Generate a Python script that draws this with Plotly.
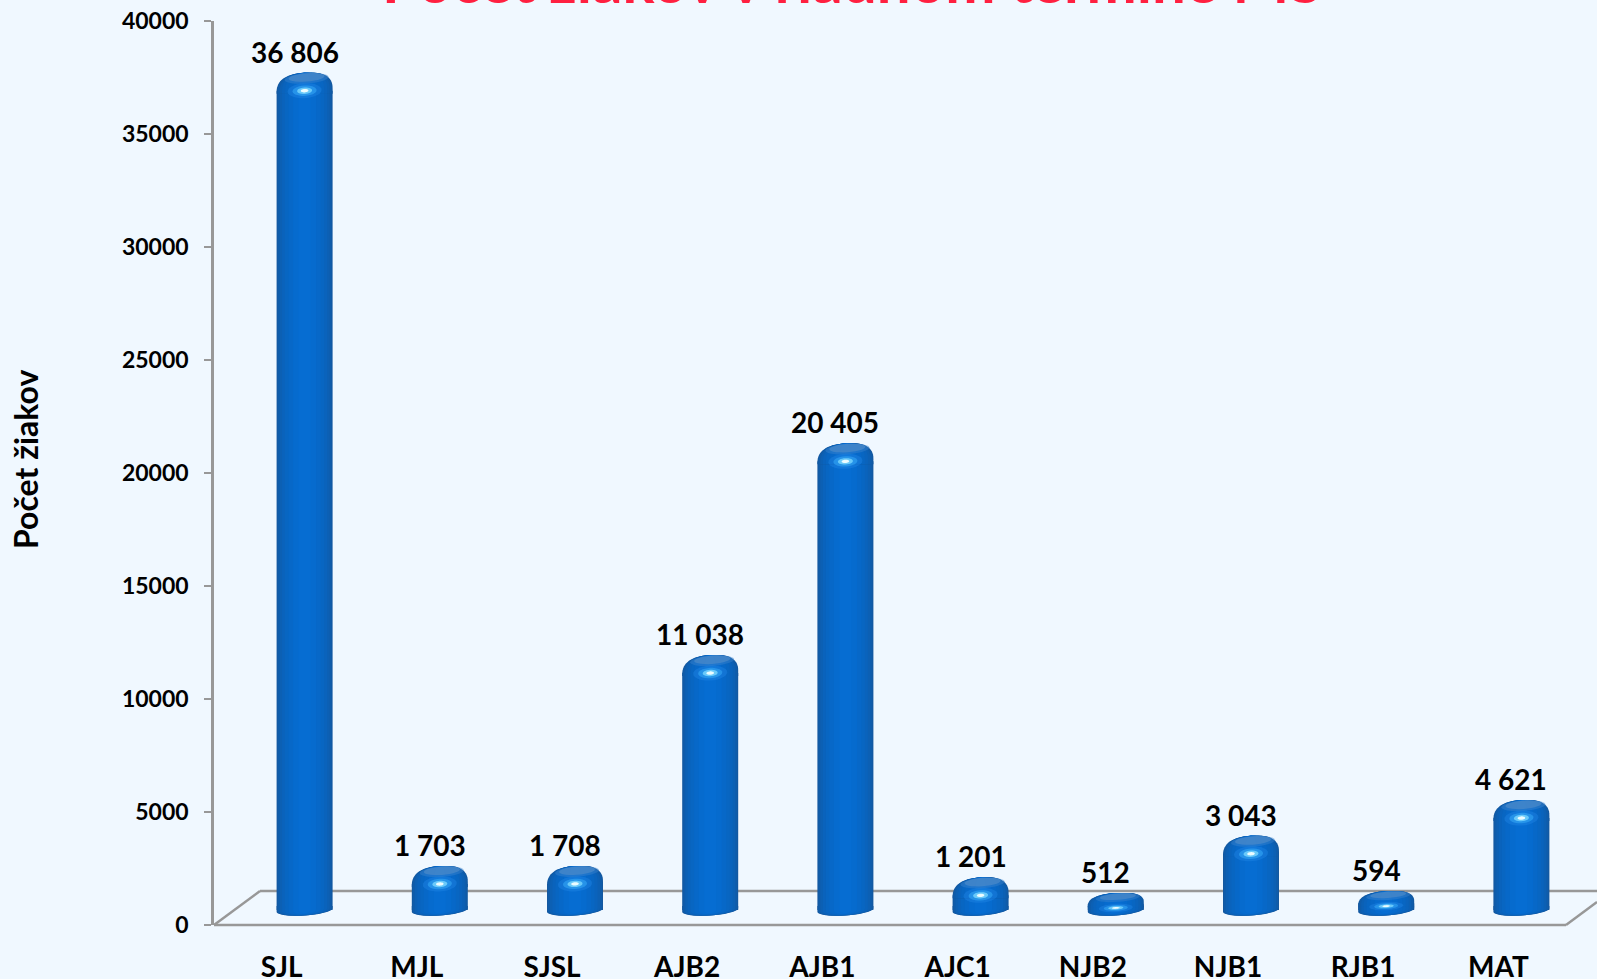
import math
import plotly.graph_objects as go

categories = ["SJL", "MJL", "SJSL", "AJB2", "AJB1", "AJC1", "NJB2", "NJB1", "RJB1", "MAT"]
values = [36806, 1703, 1708, 11038, 20405, 1201, 512, 3043, 594, 4621]
y_ticks = [0, 5000, 10000, 15000, 20000, 25000, 30000, 35000, 40000]
title_text = "Počet žiakov v riadnom termíne MS"
y_title = "Počet žiakov"

BG = "#F0F8FF"
GREY = "#989898"
FONT = "Lato"

W, H = 1597, 979
L, R, T, B = 214, 1566, 21, 925
PPU = (B - T) / 40000       # pixels per value unit
CAT_W = (R - L) / 10
DX, DY = 23, 20.5           # depth offset of the columns
dx_u, dy_u = DX / CAT_W, DY / PPU
DROP_PX = 5.5               # body continues below the value baseline
FOOT_RY = 5.5

# cylinder shading: (width px, colour) from the outside in
layers = [
    (56, "#14589F"), (54, "#0F5CAA"), (50, "#0C60B4"), (45, "#0A63BC"),
    (39, "#0866C2"), (32, "#0768C8"), (23, "#066BCE"), (12, "#066DD2"),
]


def dome_height(v):
    total = v * PPU + DROP_PX + FOOT_RY
    return min(18.0, total * 0.5)


def foot_path(w, tilt=0.065):
    pts = [(-w / 2, -DROP_PX + 4)]
    for k in range(25):
        a = math.pi + math.pi * k / 24
        x = w / 2 * math.cos(a)
        y = FOOT_RY * (w / 56) ** 0.35 * math.sin(a) + tilt * x - DROP_PX
        pts.append((x, y))
    pts.append((w / 2, -DROP_PX + 4))
    return "M" + " L".join(f"{x:.1f},{y:.1f}" for x, y in pts) + " Z"


def dome_path(w, hd, tilt=0.07):
    pts = [(-w / 2, -hd - 3)]
    n = 32
    for k in range(n + 1):
        a = math.pi - math.pi * k / n
        c, s = math.cos(a), math.sin(a)
        x = w / 2 * (abs(c) ** 0.8) * (1 if c >= 0 else -1)
        y = -hd + hd * (s ** 0.8) + tilt * x
        pts.append((x, min(y, 0.0)))
    pts.append((w / 2, -hd - 3))
    return "M" + " L".join(f"{x:.1f},{y:.1f}" for x, y in pts) + " Z"


def ell(rx, ry, tilt, cx=0, cy=0, n=28):
    pts = []
    for k in range(n):
        a = 2 * math.pi * k / n
        x = rx * math.cos(a)
        y = ry * math.sin(a) + tilt * x
        pts.append(f"{cx + x:.1f},{cy + y:.1f}")
    return "M" + " L".join(pts) + " Z"


fig = go.Figure()

body_top = [v - dome_height(v) / PPU for v in values]
for width, colour in layers:
    fig.add_bar(
        x=list(range(10)), y=[t + DROP_PX / PPU for t in body_top], base=[-DROP_PX / PPU] * 10,
        width=width / CAT_W, xaxis="x2", yaxis="y2",
        marker=dict(color=colour, line_width=0),
        hoverinfo="skip", showlegend=False,
    )

shapes = [
    dict(type="line", xref="paper", yref="paper", x0=0, x1=1, y0=0, y1=0),
    dict(type="line", xref="paper", yref="paper", x0=0, x1=46 / (R - L), y0=0, y1=34 / (B - T)),
    dict(type="line", xref="paper", yref="paper", x0=46 / (R - L), x1=(W - L) / (R - L), y0=34 / (B - T), y1=34 / (B - T)),
    dict(type="line", xref="paper", yref="paper", x0=1, x1=(W - L) / (R - L), y0=0, y1=23 / (B - T)),
]
for s in shapes:
    s.update(layer="below", line=dict(color=GREY, width=2.5))

for i, v in enumerate(values):
    anchor = dict(xref="x2", yref="y2", xsizemode="pixel", ysizemode="pixel", xanchor=i, type="path", line_width=0)
    hd = dome_height(v)
    flat = hd < 14
    for width, colour in layers:
        shapes.append(dict(anchor, yanchor=0, path=foot_path(width), fillcolor=colour))
        shapes.append(dict(anchor, yanchor=v, path=dome_path(width, hd), fillcolor=colour))
    # lighter lid
    lid_ry = 3.2 if flat else 4.2
    for rx, ry, colour in [(22, lid_ry + 1, "rgba(60,130,205,0.45)"), (18, lid_ry, "rgba(70,135,200,0.8)")]:
        shapes.append(dict(anchor, yanchor=v, path=ell(rx, ry, 0.07, cx=2, cy=-ry - 0.5), fillcolor=colour))
    # glossy highlight
    k, cy = (0.55, -15) if flat else (1.0, -18)
    for rx, ry, colour in [(17, 7.5, "rgba(40,140,235,0.35)"), (12, 5.2, "rgba(60,175,250,0.5)"),
                           (7.5, 3.2, "rgba(130,220,255,0.75)"), (3.8, 1.7, "rgba(235,252,255,1)")]:
        shapes.append(dict(anchor, yanchor=v, path=ell(rx, ry * k, 0.05, cy=cy), fillcolor=colour))

annotations = [
    dict(x=i, y=v, xref="x", yref="y", text=f"<b>{v:,}</b>".replace(",", " "), showarrow=False,
         xshift=13, yshift=41.5, yanchor="middle", font=dict(family=FONT, size=28, color="black"))
    for i, v in enumerate(values)
]
annotations.append(dict(
    x=(851.5 - L) / (R - L), xanchor="center", y=1 + 3 / (B - T), yanchor="bottom", yref="paper", xref="paper",
    text=f"<b>{title_text}</b>", showarrow=False, font=dict(family=FONT, size=60, color="#FF2040"),
))
annotations.append(dict(
    x=(26 - L) / (R - L), xanchor="center", y=(B - 460) / (B - T), yanchor="middle", yref="paper", xref="paper",
    text=f"<b>{y_title}</b>", showarrow=False, textangle=-90, font=dict(family=FONT, size=32, color="black"),
))

fig.update_layout(
    width=W, height=H, autosize=False,
    margin=dict(l=L, r=W - R, t=T, b=H - B, pad=0, autoexpand=False),
    paper_bgcolor=BG, plot_bgcolor="rgba(0,0,0,0)",
    barmode="overlay", showlegend=False,
    font=dict(family=FONT, color="black"),
    xaxis=dict(range=[-0.5, 9.5], tickmode="array", tickvals=list(range(10)), ticktext=categories,
               showgrid=False, zeroline=False, showline=False, ticks="", ticklabelstandoff=23, automargin=False,
               tickfont=dict(family=FONT, size=28, weight="bold")),
    xaxis2=dict(range=[-0.5 - dx_u, 9.5 - dx_u], overlaying="x", visible=False, automargin=False),
    yaxis=dict(range=[0, 40000], tickmode="array", tickvals=y_ticks, ticktext=[str(t) for t in y_ticks],
               showgrid=False, zeroline=False, showline=True, linecolor=GREY, linewidth=2.5, automargin=False,
               ticks="outside", ticklen=7, tickcolor=GREY, tickwidth=2, ticklabelstandoff=11,
               tickfont=dict(family=FONT, size=23, weight="bold")),
    yaxis2=dict(range=[-dy_u, 40000 - dy_u], overlaying="y", visible=False, automargin=False),
    shapes=shapes, annotations=annotations,
)

fig.write_html("out.html", post_script="document.body.style.margin='0';", config={"displayModeBar": False})
